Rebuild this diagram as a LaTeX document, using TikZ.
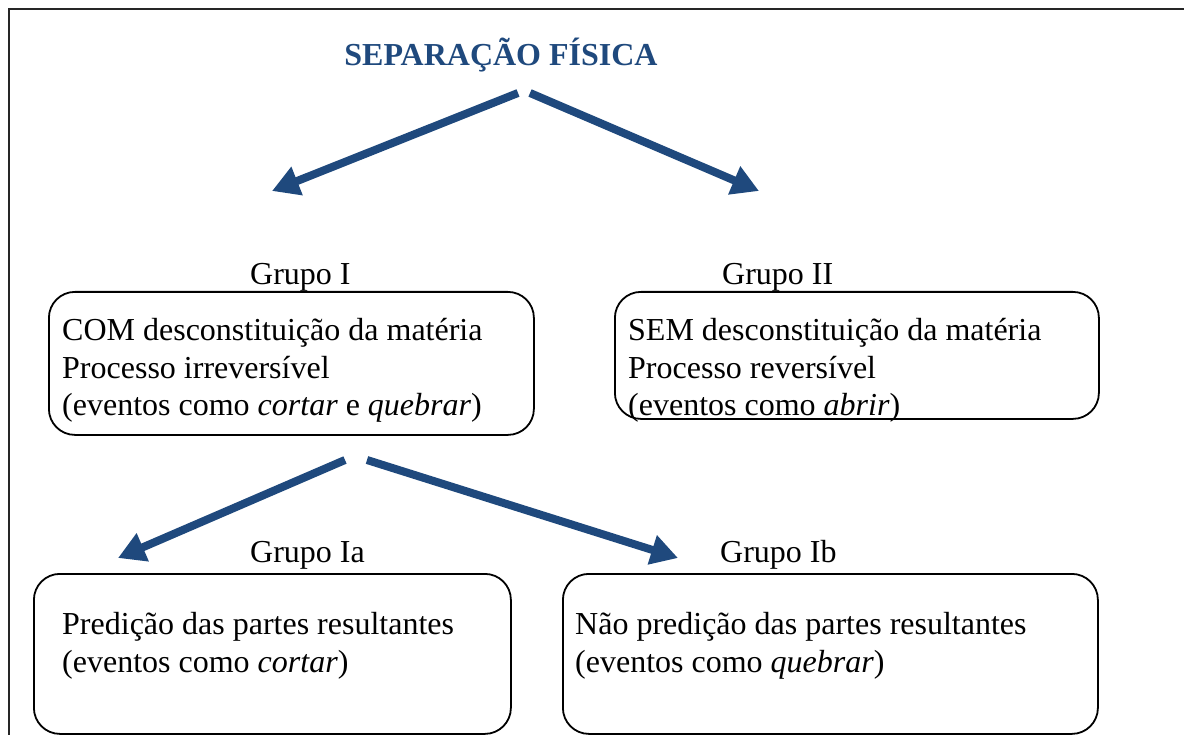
\documentclass[tikz,border=0pt]{standalone}
\usepackage{fontspec}
\setmainfont{Liberation Serif}
\usetikzlibrary{arrows.meta}
\definecolor{navy}{HTML}{1F497D}
\begin{document}
\begin{tikzpicture}[x=1pt,y=-1pt,
  txt/.style={font=\fontsize{32}{37.5}\selectfont, inner sep=0pt, align=left, anchor=base west},
  grp/.style={font=\fontsize{32}{37.5}\selectfont, inner sep=0pt, anchor=base west},
  gbox/.style={draw, line width=1.8pt, rounded corners=26pt, anchor=north west, inner sep=0pt},
  arr/.style={draw=navy, line width=8pt, -{Triangle[length=27pt,width=29pt,fill=navy]}}]
\useasboundingbox (0,0) rectangle (1184,735);
\clip (0,0) rectangle (1184,735);
\draw[line width=2pt, draw=black!85] (9,9) rectangle (1200,760);

\node[font=\bfseries\fontsize{32}{38}\selectfont, text=navy, anchor=base, inner sep=0pt] (title) at (501,66) {SEPARAÇÃO FÍSICA};

\coordinate (a1s) at (518,93);
\coordinate (a1e) at (272,191);
\coordinate (a2s) at (530,93);
\coordinate (a2e) at (759,191);
\draw[arr] (a1s) -- (a1e);
\draw[arr] (a2s) -- (a2e);

\node[grp] (gI) at (250,285) {Grupo I};
\node[grp] (gII) at (722,285) {Grupo II};

\node[gbox, minimum width=485pt, minimum height=143pt] (bI) at (48,291) {};
\node[gbox, minimum width=484pt, minimum height=127pt] (bII) at (614,291) {};

\node[txt] (tI) at (62,416) {COM desconstituição da matéria\\Processo irreversível\\(eventos como \textit{cortar} e \textit{quebrar})};
\node[txt] (tII) at (628,416) {SEM desconstituição da matéria\\Processo reversível\\(eventos como \textit{abrir})};

\coordinate (a3s) at (345,460);
\coordinate (a3e) at (118,558);
\coordinate (a4s) at (367,460);
\coordinate (a4e) at (678,558);
\draw[arr] (a3s) -- (a3e);
\draw[arr] (a4s) -- (a4e);

\node[grp] (gIa) at (250,562) {Grupo Ia};
\node[grp] (gIb) at (720,562) {Grupo Ib};

\node[gbox, minimum width=477pt, minimum height=160pt] (bIa) at (33,573) {};
\node[gbox, minimum width=535pt, minimum height=160pt] (bIb) at (562,573) {};

\node[txt] (tIa) at (62,672) {Predição das partes resultantes\\(eventos como \textit{cortar})};
\node[txt] (tIb) at (575,672) {Não predição das partes resultantes\\(eventos como \textit{quebrar})};
\end{tikzpicture}
\end{document}
